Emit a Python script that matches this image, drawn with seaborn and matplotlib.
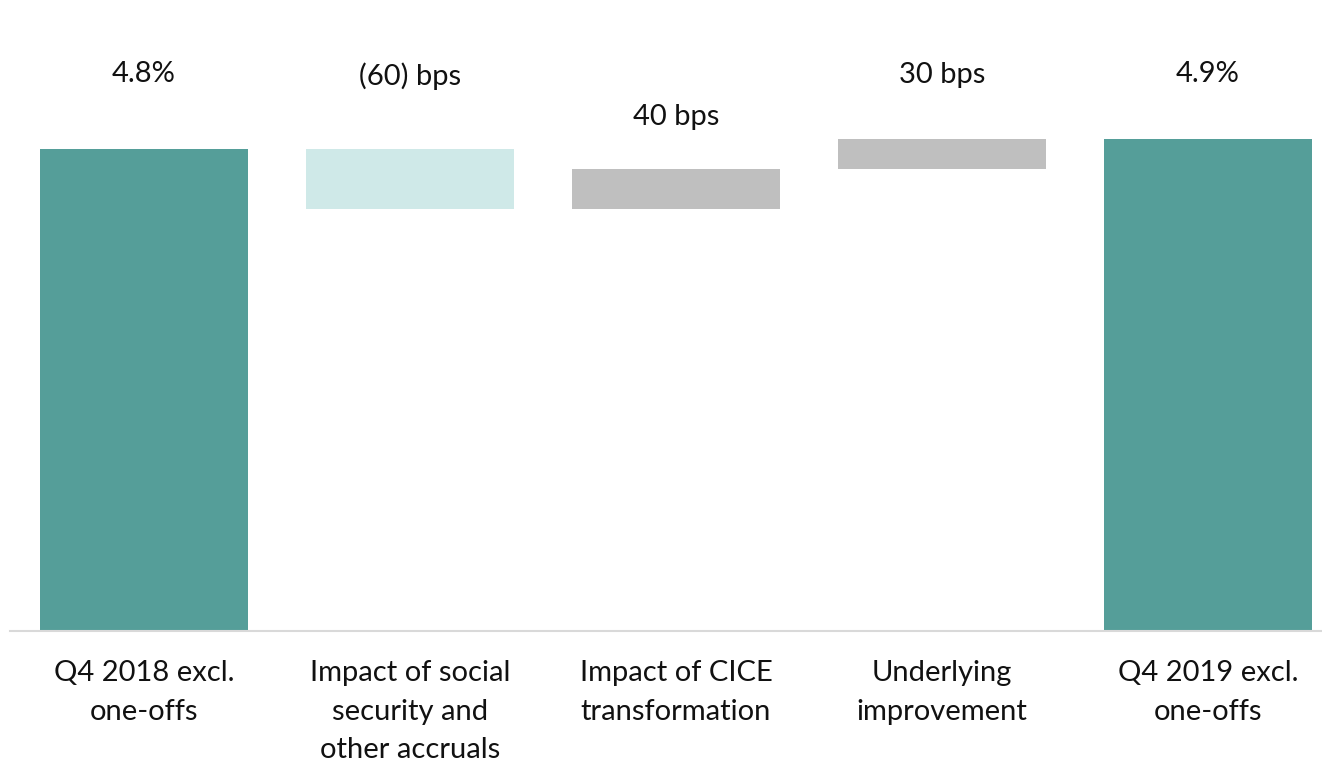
import matplotlib
matplotlib.use("Agg")
import matplotlib.pyplot as plt
import seaborn as sns
import numpy as np

# Margin bridge, Q4 2018 -> Q4 2019 (values in %)
categories = [
    "Q4 2018 excl.\none-offs",
    "Impact of social\nsecurity and\nother accruals",
    "Impact of CICE\ntransformation",
    "Underlying\nimprovement",
    "Q4 2019 excl.\none-offs",
]
start_value = 4.8
changes = [-0.6, 0.4, 0.3]
end_value = 4.9
value_labels = ["4.8%", "(60) bps", "40 bps", "30 bps", "4.9%"]

# Waterfall geometry: totals sit on zero, changes float on the running total
running = start_value + np.concatenate([[0], np.cumsum(changes)])
bottoms = [0.0]
heights = [start_value]
for prev, delta in zip(running[:-1], changes):
    bottoms.append(min(prev, prev + delta))
    heights.append(abs(delta))
bottoms.append(0.0)
heights.append(end_value)
tops = [b + h for b, h in zip(bottoms, heights)]

colors = ["#559E99", "#CFE9E8", "#BFBFBF", "#BFBFBF", "#559E99"]
label_pad_px = [75, 73, 52, 64, 65]

sns.set_theme(style="white")
plt.rcParams["font.family"] = ["Lato", "DejaVu Sans"]

W, H = 1322, 766
fig = plt.figure(figsize=(W / 100, H / 100), dpi=100)
ax_left, ax_bottom, ax_top = 10, 631, 29
ax = fig.add_axes([ax_left / W, 1 - ax_bottom / H, 1 - ax_left / W, (ax_bottom - ax_top) / H])

sns.barplot(x=categories, y=heights, bottom=bottoms, order=categories,
            color=colors[0], width=0.782, saturation=1, ax=ax)
for patch, c in zip(ax.patches, colors):
    patch.set_facecolor(c)
    patch.set_edgecolor("none")

ax.set_ylim(0, (ax_bottom - ax_top) / 100.4)
ax.set_xlim(-134 / 266, 4 + 114 / 266)

for i, (top, txt, pad) in enumerate(zip(tops, value_labels, label_pad_px)):
    ax.annotate(txt, xy=(i, top), xytext=(0, pad), textcoords="offset pixels",
                ha="center", va="center", fontsize=21, color="#111111")

ax.set_yticks([])
ax.set_ylabel("")
ax.tick_params(axis="x", length=0, pad=21, labelsize=21, labelcolor="#111111")
for lbl in ax.get_xticklabels():
    lbl.set_linespacing(1.6)

for side in ["left", "right", "top"]:
    ax.spines[side].set_visible(False)
ax.spines["bottom"].set_color("#D9D9D9")
ax.spines["bottom"].set_linewidth(1.5)

fig.savefig("out.png", dpi=100)
